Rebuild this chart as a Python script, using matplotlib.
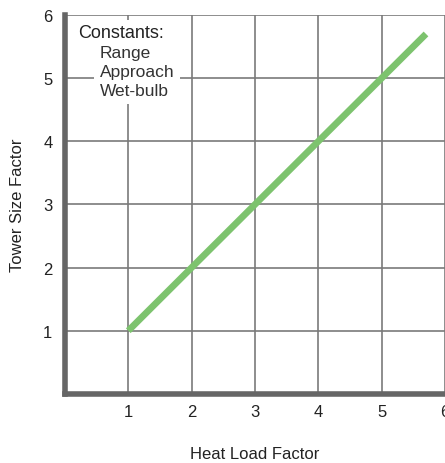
import matplotlib
matplotlib.use("Agg")
import matplotlib.pyplot as plt

# Datos
heat_load = [1.0, 5.7]
tower_size = [1.0, 5.7]
x_ticks = [1, 2, 3, 4, 5, 6]
y_ticks = [1, 2, 3, 4, 5, 6]
constants = ["Range", "Approach", "Wet-bulb"]

plt.rcParams['font.family'] = ['Liberation Sans', 'DejaVu Sans']

fig = plt.figure(figsize=(4.45, 4.64), dpi=100)
ax = fig.add_axes([0.146, 0.149, 0.854, 0.8165])

ax.set_xlim(0, 6)
ax.set_ylim(0, 6)
ax.set_xticks(x_ticks)
ax.set_yticks(y_ticks)
ax.grid(True, color='#7a7a7a', linewidth=1.2)
ax.set_axisbelow(True)

for s in ['top', 'right']:
    ax.spines[s].set_visible(False)
for s in ['left', 'bottom']:
    ax.spines[s].set_color('#666666')
    ax.spines[s].set_linewidth(4)

ax.tick_params(length=0, labelsize=12, colors='#222222')
ax.tick_params(axis='x', pad=7)
ax.tick_params(axis='y', pad=9)

ax.plot(heat_load, tower_size, color='#7dc36e', linewidth=4.8,
        solid_capstyle='butt', zorder=3)

# Kutu: sabitler
ax.text(0.2, 5.72, "Constants:", fontsize=13, va='center', ha='left',
        color='#222222',
        bbox=dict(facecolor='white', edgecolor='none', pad=3), zorder=4)
ax.text(0.55, 5.1, "\n".join(constants), fontsize=12.5, va='center', ha='left',
        linespacing=1.32, color='#333333',
        bbox=dict(facecolor='white', edgecolor='none', pad=4), zorder=4)

fig.text(0.573, 1 - 455 / 464, "Heat Load Factor", fontsize=12, ha='center',
         va='center', color='#222222')
fig.text(18 / 445, 1 - 205 / 464, "Tower Size Factor", fontsize=12,
         rotation=90, ha='center', va='center', color='#222222')

fig.savefig("out.png", dpi=100)
